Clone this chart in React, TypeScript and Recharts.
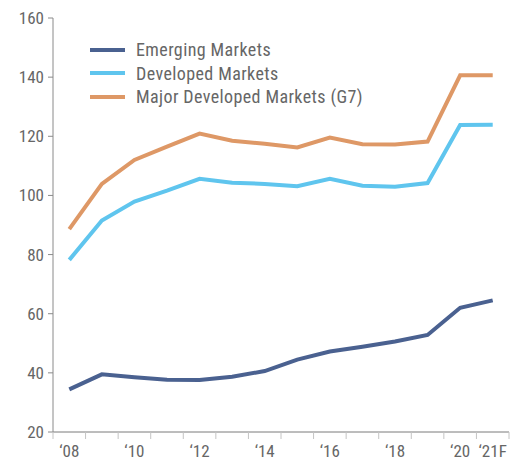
import { LineChart, Line, XAxis, YAxis } from "recharts";

const years = ["2008", "2009", "2010", "2011", "2012", "2013", "2014", "2015", "2016", "2017", "2018", "2019", "2020", "2021F"];
const tickLabels = ["‘08", "", "‘10", "", "‘12", "", "‘14", "", "‘16", "", "‘18", "", "‘20", "‘21F"];

const emerging = [34.4, 39.5, 38.5, 37.7, 37.6, 38.7, 40.6, 44.5, 47.2, 48.8, 50.6, 52.8, 62.0, 64.5];
const developed = [78.2, 91.5, 97.9, 101.6, 105.6, 104.3, 103.9, 103.1, 105.6, 103.3, 102.9, 104.2, 123.8, 123.9];
const majorG7 = [88.6, 103.9, 112.0, 116.5, 120.9, 118.5, 117.5, 116.2, 119.6, 117.3, 117.2, 118.2, 140.6, 140.6];

const yTicks = [20, 40, 60, 80, 100, 120, 140, 160];

const series = [
  { key: "emerging", name: "Emerging Markets", color: "#4a6190" },
  { key: "developed", name: "Developed Markets", color: "#5fc5ee" },
  { key: "major", name: "Major Developed Markets (G7)", color: "#de9866" },
];

const data = years.map((year, i) => ({
  year,
  emerging: emerging[i],
  developed: developed[i],
  major: majorG7[i],
}));

const FONT = "'Liberation Sans Narrow', 'Roboto Condensed', Roboto, sans-serif";
const TEXT = "#666666";

// x ticks sit on the band edges, labels in the band centre
function XTick(props: any) {
  const { x, y, payload, index, visibleTicksCount, width } = props;
  const half = payload.offset ?? width / visibleTicksCount / 2;
  const text = tickLabels[index];
  const isLast = index === visibleTicksCount - 1;
  return (
    <g>
      <line x1={x - half} x2={x - half} y1={y} y2={y + 7} stroke="#c4c4c4" />
      {isLast && <line x1={x + half} x2={x + half} y1={y} y2={y + 7} stroke="#c4c4c4" />}
      {text && (
        <text x={x} y={y + 25} textAnchor="middle" fill={TEXT} fontSize={17} fontFamily={FONT}>
          {text}
        </text>
      )}
    </g>
  );
}

function LegendBox() {
  return (
    <div style={{ position: "absolute", left: 90, top: 38, fontFamily: FONT, fontSize: 18, letterSpacing: 0.4, color: TEXT }}>
      {series.map((s) => (
        <div key={s.key} style={{ display: "flex", alignItems: "center", height: 23.5 }}>
          <span style={{ display: "inline-block", width: 35, height: 4, background: s.color, marginRight: 11 }} />
          <span>{s.name}</span>
        </div>
      ))}
    </div>
  );
}

export default function App() {
  return (
    <div style={{ position: "relative", width: 520, height: 461, background: "#fff" }}>
      <style>{"body{margin:0}"}</style>
      <LineChart width={520} height={461} data={data} margin={{ top: 18, right: 11, bottom: 0, left: 0 }}>
        <XAxis
          dataKey="year"
          scale="band"
          interval={0}
          height={29}
          tick={<XTick />}
          tickLine={false}
          tickSize={0}
          tickMargin={0}
          axisLine={{ stroke: "#7a7a7a" }}
        />
        <YAxis
          domain={[20, 160]}
          ticks={yTicks}
          width={53}
          tickSize={5}
          tickMargin={4}
          tickLine={{ stroke: "#8a8a8a" }}
          axisLine={{ stroke: "#8a8a8a" }}
          tick={{ fill: TEXT, fontSize: 17, fontFamily: FONT }}
        />
        {series.map((s) => (
          <Line
            key={s.key}
            dataKey={s.key}
            name={s.name}
            stroke={s.color}
            strokeWidth={4}
            dot={false}
            activeDot={false}
            isAnimationActive={false}
          />
        ))}
      </LineChart>
      <LegendBox />
    </div>
  );
}
